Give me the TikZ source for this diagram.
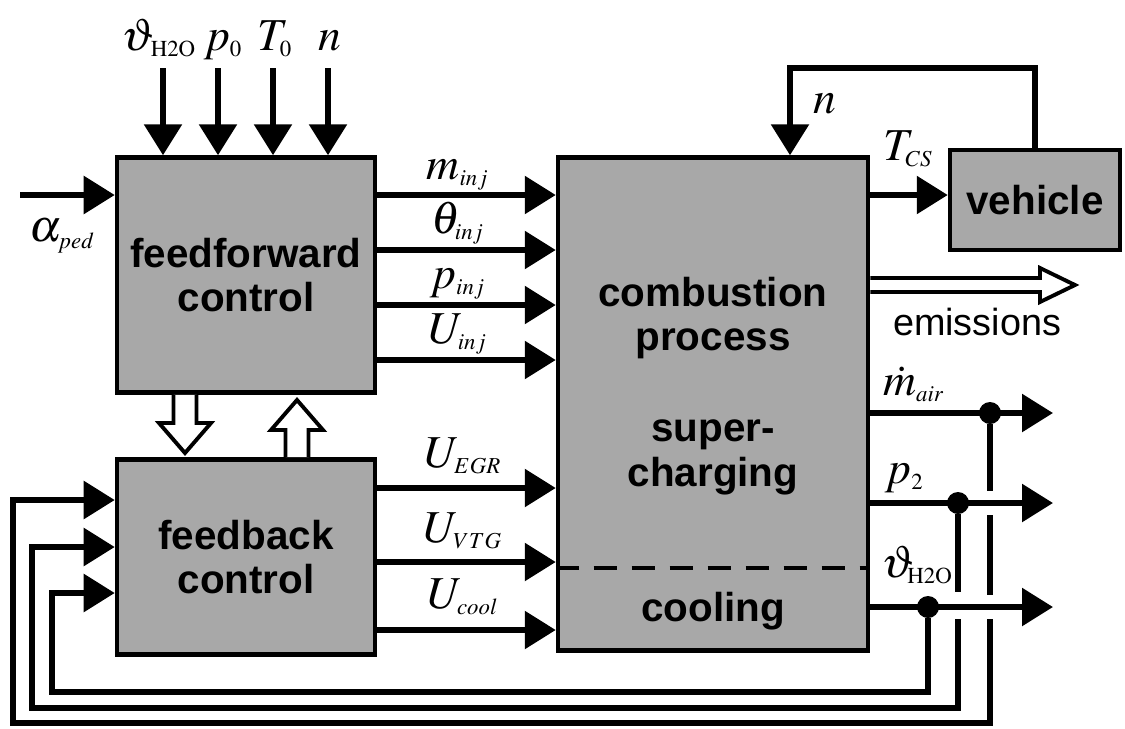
\documentclass[tikz,border=0pt]{standalone}
\usepackage{mathptmx}
\usepackage[no-math]{fontspec}
\setmainfont{Liberation Sans}
\usepackage{tikz}
\usetikzlibrary{arrows.meta}
\definecolor{boxgray}{RGB}{168,168,168}
\DeclareMathSizes{26}{26}{13}{10}

\begin{document}
\begin{tikzpicture}[x=0.02cm, y=-0.02cm, >={Triangle[length=0.62cm, width=0.74cm]},
    box/.style={draw, fill=boxgray, line width=2.6pt, inner sep=0pt,
        font=\fontsize{23}{25.5}\selectfont\bfseries, align=center},
    boxtext/.style={font=\fontsize{23}{25.5}\selectfont\bfseries, align=center},
    sig/.style={line width=3.3pt, ->},
    wire/.style={line width=3.3pt},
    hollow/.style={draw, fill=white, line width=2.2pt, line join=miter},
    lab/.style={font=\fontsize{26}{28}\selectfont, inner sep=0pt},
    dot/.style={circle, fill, inner sep=0pt, minimum size=0.44cm}]

    \useasboundingbox (0,0) rectangle (1125,728);

    % Blocks
    \node[box, minimum width=5.16cm, minimum height=4.7cm] (ff) at (246,275) {feedforward\\control};
    \node[box, minimum width=5.16cm, minimum height=3.9cm] (fb) at (246,557) {feedback\\control};
    \node[box, minimum width=6.2cm, minimum height=9.86cm] (cp) at (713,404) {};
    \node[box, minimum width=3.4cm, minimum height=2cm] (veh) at (1035,200) {vehicle};

    \node[boxtext] (cpComb) at (713,318) {combustion\\process};
    \node[boxtext] (cpSup) at (713,457) {super-\\charging};
    \node[boxtext] (cpCool) at (713,611) {cooling};
    \draw[line width=2pt, dash pattern=on 0.46cm off 0.3cm] (cp.west |- 0,568) -- (cp.east |- 0,568);

    % Inputs from above
    \coordinate (inTh) at (163,68);
    \coordinate (inP) at (218,68);
    \coordinate (inT) at (273,68);
    \coordinate (inN) at (328,68);
    \draw[sig] (inTh) node[lab, anchor=base, xshift=-0.08cm, yshift=0.36cm] (lTh) {$\vartheta_{\mathrm{H2O}}$} -- (inTh |- ff.north);
    \draw[sig] (inP) node[lab, anchor=base, xshift=0.1cm, yshift=0.36cm] (lP) {$p_0$} -- (inP |- ff.north);
    \draw[sig] (inT) node[lab, anchor=base, xshift=0.04cm, yshift=0.36cm] (lT) {$T_0$} -- (inT |- ff.north);
    \draw[sig] (inN) node[lab, anchor=base, xshift=0.04cm, yshift=0.36cm] (lN) {$n$} -- (inN |- ff.north);

    % Pedal
    \coordinate (inA) at (20,195);
    \draw[sig] (inA) -- (inA -| ff.west);
    \node[lab] (lA) at (62,236) {$\alpha_{ped}$};

    % Feedforward -> process
    \draw[sig] (ff.east |- 0,195) -- (cp.west |- 0,195) node[lab, pos=0.45, anchor=base, yshift=0.32cm] (lMinj) {$m_{inj}$};
    \draw[sig] (ff.east |- 0,250) -- (cp.west |- 0,250) node[lab, pos=0.45, anchor=base, yshift=0.34cm] (lThinj) {$\theta_{inj}$};
    \draw[sig] (ff.east |- 0,305) -- (cp.west |- 0,305) node[lab, pos=0.45, anchor=base, yshift=0.34cm] (lPinj) {$p_{inj}$};
    \draw[sig] (ff.east |- 0,360) -- (cp.west |- 0,360) node[lab, pos=0.45, anchor=base, yshift=0.34cm] (lUinj) {$U_{inj}$};

    % Feedback -> process
    \draw[sig] (fb.east |- 0,488) -- (cp.west |- 0,488) node[lab, pos=0.48, anchor=base, yshift=0.42cm] (lUegr) {$U_{EGR}$};
    \draw[sig] (fb.east |- 0,562) -- (cp.west |- 0,562) node[lab, pos=0.48, anchor=base, yshift=0.4cm] (lUvtg) {$U_{VTG}$};
    \draw[sig] (fb.east |- 0,630) -- (cp.west |- 0,630) node[lab, pos=0.48, anchor=base, yshift=0.44cm] (lUcool) {$U_{cool}$};

    % Hollow arrows between the controllers
    \draw[hollow] (ff.south -| 173.5,0) -- (173.5,423) -- (159,423) -- (185,453) -- (211,423) -- (196.5,423) -- (ff.south -| 196.5,0);
    \draw[hollow] (fb.north -| 285.5,0) -- (285.5,430) -- (271,430) -- (297,400) -- (323,430) -- (308.5,430) -- (fb.north -| 308.5,0);

    % Vehicle and speed loop
    \coordinate (nTurn) at (790,68);
    \draw[sig] (veh.north) |- (nTurn) -- (nTurn |- cp.north);
    \node[lab, anchor=base] (lNv) at (825,113) {$n$};
    \draw[sig] (cp.east |- 0,195) -- (veh.west |- 0,195);
    \node[lab, anchor=base] (lTcs) at (908,160) {$T_{CS}$};

    % Emissions
    \draw[hollow] (cp.east |- 0,278) -- (1040,278) -- (1040,268) -- (1075,285) -- (1040,302) -- (1040,292) -- (cp.east |- 0,292);
    \node[font=\fontsize{21.5}{24}\selectfont] (lEm) at (977,322) {emissions};

    % Measured outputs
    \coordinate (oA) at (1053,413);
    \coordinate (oB) at (1053,503);
    \coordinate (oC) at (1053,607);
    \draw[sig] (cp.east |- oA) node[lab, anchor=base west, xshift=0.2cm, yshift=0.36cm] (lMair) {$\dot{m}_{air}$} -- (oA);
    \draw[sig] (cp.east |- oB) node[lab, anchor=base west, xshift=0.24cm, yshift=0.4cm] (lP2) {$p_2$} -- (oB);
    \draw[sig] (cp.east |- oC) node[lab, anchor=base west, xshift=0.16cm, yshift=0.6cm] (lThH) {$\vartheta_{\!\mathrm{H2O}}$} -- (oC);

    \node[dot] (dA) at (990,413) {};
    \node[dot] (dB) at (958,503) {};
    \node[dot] (dC) at (928,607) {};

    % Feedback loops
    \coordinate (fA) at (13,500);
    \coordinate (fB) at (32,547);
    \coordinate (fC) at (52,593);
    \draw[wire] (dA) -- (dA |- 0,491);
    \draw[wire] (dA |- 0,515) -- (dA |- 0,595);
    \draw[sig] (dA |- 0,619) |- (fA |- 0,723) -- (fA) -- (fA -| fb.west);
    \draw[wire] (dB) -- (dB |- 0,592);
    \draw[sig] (dB |- 0,619) |- (fB |- 0,708) -- (fB) -- (fB -| fb.west);
    \draw[sig] (dC) |- (fC |- 0,692) -- (fC) -- (fC -| fb.west);

\end{tikzpicture}
\end{document}
